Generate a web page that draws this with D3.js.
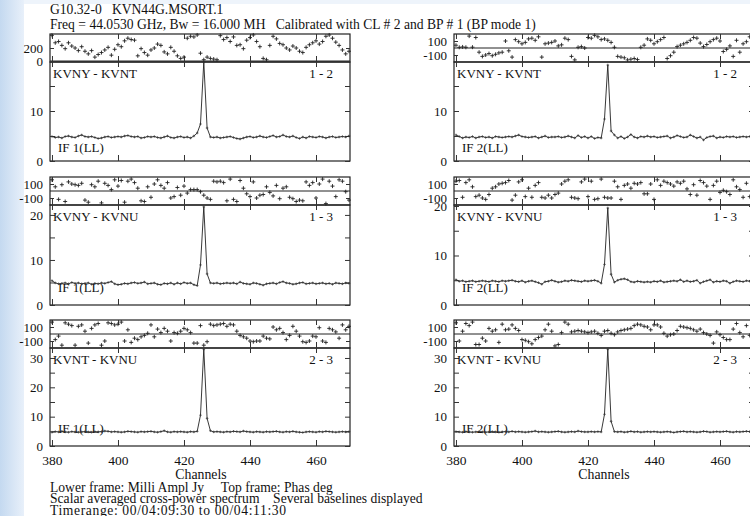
<!DOCTYPE html>
<html>
<head>
<meta charset="utf-8">
<script src="https://cdn.jsdelivr.net/npm/d3@7"></script>
<style>
  body { margin: 0; background: #fff; }
  svg { display: block; }
</style>
</head>
<body>
<svg id="chart"></svg>
<script>
// ---- data ----
const channels = d3.range(380, 471);
const channelTicks = [380, 400, 420, 440, 460];

const baselineNames = ["KVNY - KVNT", "KVNY - KVNU", "KVNT - KVNU"];
const baselineIds = ["1 - 2", "1 - 3", "2 - 3"];
const ifNames = ["IF 1(LL)", "IF 2(LL)"];

const ampLabels = [[0, 10], [0, 10, 20], [0, 10, 20, 30]];
const phaseLabelsL1 = [0, 200];
const phaseLabels = [-100, 100];

// amplitude (milli Jy), one value per channel 380..470
const ampL1 = [4.9, 4.7, 4.8, 4.6, 4.9, 5.0, 4.8, 4.7, 5.0, 5.2,
  4.9, 4.8, 4.9, 4.7, 4.5, 4.6, 4.8, 4.9, 4.7, 4.8,
  4.9, 4.8, 5.0, 5.1, 4.9, 4.8, 4.9, 4.6, 4.7, 4.9,
  4.8, 4.9, 4.7, 4.6, 4.8, 5.0, 4.7, 4.6, 4.8, 4.9,
  4.7, 4.8, 4.6, 5.0, 5.6, 7.4, 19.8, 6.6, 4.8, 4.7,
  4.8, 4.6, 4.7, 4.8, 4.9, 4.7, 4.5, 4.4, 4.6, 4.8,
  4.9, 4.7, 4.8, 5.0, 4.8, 4.7, 4.9, 5.1, 4.8, 4.9,
  5.2, 4.9, 4.8, 5.0, 4.7, 4.5, 4.8, 4.6, 4.9, 4.8,
  4.7, 4.9, 4.8, 4.6, 4.8, 4.9, 4.7, 4.8, 4.9, 4.8,
  5.0];
const ampR1 = [5.2, 4.9, 4.6, 4.8, 4.7, 4.9, 4.6, 4.8, 4.9, 4.7,
  4.8, 4.6, 4.9, 4.8, 4.7, 4.8, 4.9, 4.8, 5.0, 5.2,
  4.9, 4.8, 4.7, 4.8, 4.9, 4.6, 4.8, 5.0, 4.7, 4.8,
  4.8, 4.9, 4.7, 4.8, 5.0, 4.8, 4.6, 5.1, 4.7, 4.9,
  4.6, 4.9, 4.5, 4.7, 4.6, 8.4, 19.2, 6.0, 5.2, 4.6,
  4.9, 4.5, 4.8, 5.3, 4.8, 4.6, 4.9, 4.8, 5.0, 4.8,
  4.9, 4.7, 4.8, 4.9, 5.0, 4.6, 4.8, 5.1, 4.9, 4.7,
  4.8, 5.2, 4.9, 4.6, 4.8, 4.2, 4.7, 4.9, 5.0, 4.6,
  4.8, 4.7, 4.9, 4.8, 4.9, 4.7, 4.8, 4.9, 4.8, 4.9,
  4.8];
const ampL2 = [5.4, 4.9, 4.7, 4.8, 4.9, 4.7, 5.0, 4.8, 4.9, 4.7,
  4.8, 4.9, 4.6, 4.8, 4.7, 4.9, 4.8, 5.0, 5.2, 4.7,
  4.5, 4.6, 4.8, 4.7, 4.9, 5.0, 4.8, 4.9, 5.1, 4.7,
  4.8, 4.9, 4.6, 4.5, 4.8, 4.7, 4.9, 4.6, 4.9, 4.7,
  5.0, 4.8, 4.9, 4.5, 4.3, 8.9, 21.8, 6.9, 4.9, 4.8,
  4.9, 4.7, 4.8, 4.9, 4.8, 4.9, 4.7, 5.1, 4.8, 4.7,
  4.6, 4.9, 4.8, 4.6, 4.4, 4.7, 4.8, 4.9, 4.7, 5.0,
  5.2, 4.9, 4.8, 4.6, 4.7, 4.9, 5.0, 4.7, 4.8, 4.9,
  4.7, 4.8, 4.9, 4.7, 4.8, 4.6, 4.9, 4.8, 4.7, 4.9,
  4.8];
const ampR2 = [5.1, 4.8, 4.9, 4.7, 4.8, 4.9, 4.7, 4.8, 4.9, 4.8,
  4.7, 4.9, 4.8, 4.7, 4.9, 4.8, 4.9, 5.0, 4.8, 4.7,
  4.9, 4.6, 4.8, 4.9, 4.7, 4.5, 4.2, 4.7, 4.8, 5.0,
  4.8, 4.6, 4.7, 4.9, 4.8, 5.0, 4.9, 4.8, 4.7, 4.9,
  4.8, 4.9, 5.0, 4.8, 4.4, 8.2, 19.6, 6.2, 4.6, 5.0,
  5.2, 5.3, 5.1, 4.7, 4.6, 4.8, 4.7, 4.6, 4.7, 4.6,
  4.8, 4.7, 4.9, 4.6, 4.7, 4.8, 4.9, 4.8, 5.1, 4.7,
  4.9, 4.7, 4.8, 5.0, 4.4, 4.7, 4.9, 5.1, 4.6, 4.8,
  4.7, 4.9, 4.8, 4.4, 4.7, 4.9, 4.8, 4.7, 4.9, 4.8,
  4.8];
const ampL3 = [4.7, 4.9, 4.8, 5.0, 4.8, 4.7, 4.9, 4.8, 4.7, 4.8,
  4.9, 4.8, 4.7, 4.9, 4.8, 4.9, 5.1, 5.0, 4.8, 4.9,
  4.8, 4.7, 4.8, 5.0, 4.9, 4.8, 4.7, 4.9, 4.8, 4.9,
  5.0, 4.8, 4.7, 4.9, 5.2, 4.8, 4.7, 4.9, 4.8, 4.9,
  4.8, 4.7, 4.9, 4.8, 5.0, 10.5, 33.0, 9.4, 5.2, 4.8,
  4.9, 4.8, 4.7, 4.9, 4.8, 5.0, 4.9, 4.8, 5.1, 4.9,
  4.8, 4.7, 4.9, 4.8, 4.7, 4.9, 4.8, 4.9, 5.0, 4.8,
  4.7, 4.9, 4.8, 5.0, 4.8, 4.7, 4.6, 4.8, 4.9, 4.8,
  4.7, 4.9, 4.8, 5.0, 4.9, 4.8, 4.7, 4.8, 4.9, 4.8,
  4.9];
const ampR3 = [4.9, 4.8, 4.7, 4.9, 4.8, 4.7, 4.8, 4.9, 4.8, 4.7,
  4.8, 4.9, 4.8, 4.7, 4.8, 4.9, 4.8, 5.0, 4.8, 4.9,
  4.8, 4.7, 4.8, 4.9, 5.1, 4.8, 4.9, 4.8, 4.7, 4.8,
  4.9, 5.0, 4.8, 4.7, 4.8, 4.9, 4.8, 5.1, 4.9, 4.8,
  4.8, 4.9, 4.8, 4.9, 4.8, 10.8, 33.0, 8.4, 4.9, 4.8,
  4.9, 4.7, 4.8, 5.0, 4.8, 4.9, 4.7, 4.8, 4.9, 4.8,
  4.9, 4.8, 4.7, 4.8, 4.9, 4.8, 4.6, 4.8, 4.9, 5.0,
  4.8, 4.9, 4.8, 4.7, 4.8, 5.0, 4.9, 4.7, 4.8, 4.9,
  4.8, 4.9, 5.0, 4.8, 4.7, 4.9, 4.8, 4.9, 5.0, 4.9,
  4.8];

// phase (deg), one value per channel 380..470
const phL1 = [395, 280, 300, 240, 190, 280, 230, 200, 160, 220,
  150, 110, 160, 60, 100, 130, 170, 210, 90, 180,
  250, 220, 310, 350, 330, 320, 80, 190, 130, 90,
  170, 200, 260, 240, 140, 110, 210, 150, 80, 40,
  60, 350, 380, 370, 400, 120, 20, 60, 40, 30,
  20, 390, 330, 360, 300, 370, 240, 250, 190, 320,
  360, 400, 300, 220, 40, 20, 240, 380, 340, 270,
  250, 200, 170, 230, 200, 150, 130, 210, 250, 280,
  310, 260, 300, 380, 400, 350, 290, 240, 170, 110,
  150];
const phR1 = [40, 10, 15, 10, 170, 12, 150, -60, -120, -100,
  -80, -110, -90, -70, -60, 100, -40, -130, 120, 90,
  60, 80, 130, 140, 110, 160, -130, 60, 70, 80,
  100, 30, 45, 140, 120, -120, -170, 10, 20, 0,
  150, 140, 180, 160, 120, 130, 110, 80, 10, -120,
  -130, -140, -170, -160, -150, -165, 10, 40, 130, 110,
  60, 90, 120, 150, -150, -110, -60, 20, 40, 60,
  80, 110, 150, 140, 70, 20, 50, 90, 120, 140,
  100, -50, -20, 30, -120, 110, -60, 60, 90, 160,
  130];
const phL2 = [160, 60, -120, 90, -150, 130, 100, 90, 80, 110,
  -130, -160, 90, 60, 140, -170, 110, 80, 20, 160,
  70, 150, -160, 140, 170, 120, 40, -140, -150, 60,
  -90, 100, 160, 80, 40, 120, -100, -80, 50, -60,
  70, -30, 20, 20, 20, -10, -60, -100, -120, 140,
  130, 140, 120, -140, 170, -120, -150, 150, 40, -40,
  -80, 130, -100, -60, -50, 60, -20, -70, 80, -110,
  40, 60, -90, -110, -150, -130, -140, 130, 80, 120,
  -100, 100, 170, -180, 140, 70, -80, 160, 140, -10,
  -130];
const phR2 = [140, 150, -90, 120, 160, 60, -80, -60, -100, -120,
  -50, 40, 60, 100, 110, 120, 150, -130, -60, 130,
  160, -80, 40, -90, 80, 120, -90, -100, -60, -100,
  -50, -30, 100, 140, 160, -90, -100, -110, 130, 170,
  -80, 140, -120, -110, 170, -90, -100, -100, 140, 60,
  -120, 80, 100, 40, 110, 100, 120, -40, -40, 100,
  -120, 160, 80, 140, 120, 100, 70, 130, 110, 140,
  30, -50, 90, -60, 150, 120, 70, -120, 80, 140,
  -20, 10, -10, -50, 160, 60, 20, -90, 110, -80,
  -60];
const phL3 = [170, -80, -30, -160, 160, 140, 120, -160, 110, 130,
  40, -130, 80, 130, 150, -160, -100, 160, 150, 130,
  140, 170, -100, 60, -120, -60, -80, -40, -20, 10,
  130, -40, 70, 20, 80, 40, -100, 20, 10, 40,
  80, 60, 20, -130, -130, 120, -160, -110, 140, 120,
  130, 140, 150, 110, 140, 130, 40, -20, -40, -60,
  -100, -110, -100, -100, -30, -60, -70, 100, 60, 80,
  20, -80, -20, 110, 40, -30, -110, -120, -100, -30,
  -40, 90, -100, -120, 80, 60, 30, -60, 130, 60,
  110];
const phR3 = [160, -100, 40, 150, 120, 170, -150, -150, -60, -100,
  80, 40, 60, -120, 140, 60, 70, 130, 80, 50,
  -80, -90, -110, -140, -80, -50, -30, 60, 140, 40,
  -170, -150, 20, 170, 140, 30, 40, 50, 40, 30,
  20, 30, 40, 10, -20, 40, 50, 10, -10, 30,
  50, 60, 70, 80, 120, 140, 130, 110, 100, 60,
  130, 130, 100, 10, -30, -10, 0, 50, 110, 100,
  90, 80, 60, 40, 70, 20, 0, -20, -130, 30,
  -10, -50, -80, -80, 70, 150, 20, -40, 120, -20,
  40];

const SERIF = '"Liberation Serif", "Times New Roman", serif';

class PossmPanel {

    constructor(_config, _amp, _phase) {
        this.config = {
            parent: _config.parent,
            left: _config.left,
            top: _config.top,
            width: 300,
            phaseHeight: 28,
            ampHeight: _config.ampHeight,
            ampMax: _config.ampMax,
            ampLabels: _config.ampLabels,
            phaseDomain: _config.phaseDomain,
            phaseLabels: _config.phaseLabels,
            baseline: _config.baseline,
            baselineId: _config.baselineId,
            ifName: _config.ifName,
            ifOffset: _config.ifOffset,
            showX: _config.showX
        };
        this.amp = _amp;
        this.phase = _phase;
        this.initVis();
    }

    initVis() {
        let vis = this;
        const c = vis.config;
        const ampTop = c.phaseHeight;
        const ampBottom = c.phaseHeight + c.ampHeight;

        vis.g = c.parent.append('g')
            .attr('transform', `translate(${c.left},${c.top})`);

        vis.xScale = d3.scaleLinear().domain([379.4, 470.3]).range([0, c.width]);
        vis.phaseScale = d3.scaleLinear().domain(c.phaseDomain).range([c.phaseHeight, 0]);
        vis.ampScale = d3.scaleLinear().domain([0, c.ampMax]).range([ampBottom, ampTop]);

        const styleAxis = g => {
            g.attr('font-family', SERIF).attr('font-size', 13);
            g.select('.domain').remove();
            g.selectAll('line').attr('stroke', '#333');
            g.selectAll('text').attr('fill', '#111');
        };

        // frames
        vis.g.append('rect')
            .attr('width', c.width).attr('height', c.phaseHeight)
            .attr('fill', 'none').attr('stroke', '#222').attr('stroke-width', 1.2);
        vis.g.append('rect')
            .attr('y', ampTop)
            .attr('width', c.width).attr('height', c.ampHeight)
            .attr('fill', 'none').attr('stroke', '#222').attr('stroke-width', 1.2);

        // phase zero line
        vis.g.append('line')
            .attr('x1', 0).attr('x2', c.width)
            .attr('y1', vis.phaseScale(0)).attr('y2', vis.phaseScale(0))
            .attr('stroke', '#222').attr('stroke-width', 1);

        // x ticks on every frame edge
        vis.g.append('g')
            .call(d3.axisTop(vis.xScale).tickValues(channelTicks).tickSize(-5).tickFormat(''))
            .call(styleAxis);
        vis.g.append('g')
            .attr('transform', `translate(0,${ampTop})`)
            .call(d3.axisBottom(vis.xScale).tickValues(channelTicks).tickSize(-6).tickFormat(''))
            .call(styleAxis);
        vis.g.append('g')
            .attr('transform', `translate(0,${ampTop})`)
            .call(d3.axisTop(vis.xScale).tickValues(channelTicks).tickSize(-5).tickFormat(''))
            .call(styleAxis);
        vis.g.append('g')
            .attr('transform', `translate(0,${ampBottom})`)
            .call(d3.axisBottom(vis.xScale).tickValues(channelTicks).tickSize(-6).tickPadding(9)
                .tickFormat(d => c.showX ? String(d) : ''))
            .call(styleAxis)
            .call(g => g.selectAll('text').attr('font-size', 13.5));

        // phase y axes (plain hyphen for negatives, as in the plot)
        vis.g.append('g')
            .call(d3.axisLeft(vis.phaseScale).tickValues(c.phaseLabels).tickSize(-4).tickPadding(7)
                .tickFormat(d => String(d)))
            .call(styleAxis);
        vis.g.append('g')
            .attr('transform', `translate(${c.width},0)`)
            .call(d3.axisRight(vis.phaseScale).tickValues(c.phaseLabels).tickSize(-4).tickFormat(''))
            .call(styleAxis);

        // amplitude y axes
        const ampTickVals = d3.range(0, c.ampMax + 0.01, 5);
        vis.g.append('g')
            .call(d3.axisLeft(vis.ampScale).tickValues(ampTickVals).tickSize(-5).tickPadding(7)
                .tickFormat(d => c.ampLabels.includes(d) ? String(d) : ''))
            .call(styleAxis);
        vis.g.append('g')
            .attr('transform', `translate(${c.width},0)`)
            .call(d3.axisRight(vis.ampScale).tickValues(ampTickVals).tickSize(-5).tickFormat(''))
            .call(styleAxis);

        // labels inside the amplitude frame
        vis.g.append('text')
            .attr('x', 3).attr('y', ampTop + 16)
            .attr('font-family', SERIF).attr('font-size', 13).attr('fill', '#111')
            .text(c.baseline);
        vis.g.append('text')
            .attr('x', c.width - 17).attr('y', ampTop + 16)
            .attr('text-anchor', 'end')
            .attr('font-family', SERIF).attr('font-size', 13).attr('fill', '#111')
            .text(c.baselineId);
        vis.g.append('text')
            .attr('x', 8).attr('y', ampBottom - c.ifOffset)
            .attr('font-family', SERIF).attr('font-size', 13).attr('fill', '#111')
            .text(c.ifName);

        vis.renderVis();
    }

    renderVis() {
        let vis = this;
        const ampData = channels.map((ch, i) => ({ ch, v: vis.amp[i] }));
        const phaseData = channels.map((ch, i) => ({ ch, v: vis.phase[i] }));

        vis.g.append('path')
            .datum(ampData)
            .attr('fill', 'none')
            .attr('stroke', '#222')
            .attr('stroke-width', 0.9)
            .attr('d', d3.line()
                .x(d => vis.xScale(d.ch))
                .y(d => vis.ampScale(d.v)));

        // small crosses at each amplitude sample
        vis.g.append('path')
            .attr('fill', 'none').attr('stroke', '#333').attr('stroke-width', 0.7)
            .attr('d', ampData.map(d => {
                const x = vis.xScale(d.ch), y = vis.ampScale(d.v);
                return `M${x - 1.3},${y}h2.6M${x},${y - 1.3}v2.6`;
            }).join(''));

        // phase crosses
        vis.g.append('path')
            .attr('fill', 'none').attr('stroke', '#222').attr('stroke-width', 0.9)
            .attr('d', phaseData.map(d => {
                const x = vis.xScale(d.ch), y = vis.phaseScale(d.v);
                return `M${x - 2},${y}h4M${x},${y - 2}v4`;
            }).join(''));
    }
}

// ---- page ----
const W = 750, H = 516;
const svg = d3.select('#chart').attr('width', W).attr('height', H);

// light blue slide edge
const defs = svg.append('defs');
const grad = defs.append('linearGradient').attr('id', 'edge').attr('x1', 0).attr('x2', 1);
grad.append('stop').attr('offset', 0).attr('stop-color', '#c4d9f0');
grad.append('stop').attr('offset', 1).attr('stop-color', '#e8f0fa');
svg.append('rect').attr('width', W).attr('height', H).attr('fill', '#fff');
svg.append('rect').attr('width', 24).attr('height', H).attr('fill', 'url(#edge)');
svg.append('rect').attr('x', 24).attr('width', W - 24).attr('height', 4).attr('fill', '#eef4fb');

const cols = [50, 454];
const rows = [
    { top: 34, ampHeight: 99, ifOffset: 9 },
    { top: 177, ampHeight: 100, ifOffset: 13.5 },
    { top: 320, ampHeight: 98, ifOffset: 13.5 }
];
const ampSeries = [[ampL1, ampR1], [ampL2, ampR2], [ampL3, ampR3]];
const phaseSeries = [[phL1, phR1], [phL2, phR2], [phL3, phR3]];
const ampMax = [[19.8, 19.8], [22.2, 20.2], [33.4, 33.4]];

rows.forEach((row, r) => {
    cols.forEach((left, k) => {
        const isL1 = r === 0 && k === 0;
        new PossmPanel({
            parent: svg,
            left: left,
            top: row.top,
            ampHeight: row.ampHeight,
            ampMax: ampMax[r][k],
            ampLabels: ampLabels[r],
            phaseDomain: isL1 ? [-15, 415] : [-200, 200],
            phaseLabels: isL1 ? phaseLabelsL1 : phaseLabels,
            baseline: baselineNames[r],
            baselineId: baselineIds[r],
            ifName: ifNames[k],
            ifOffset: row.ifOffset,
            showX: r === 2
        }, ampSeries[r][k], phaseSeries[r][k]);
    });
});

// titles and footers
const txt = (x, y, s, size, anchor) => svg.append('text')
    .attr('x', x).attr('y', y)
    .attr('text-anchor', anchor || 'start')
    .attr('font-family', SERIF).attr('font-size', size).attr('fill', '#111')
    .style('white-space', 'pre')
    .text(s);

txt(50, 14, 'G10.32-0   KVN44G.MSORT.1', 13.6);
txt(50, 28.5, 'Freq = 44.0530 GHz, Bw = 16.000 MH   Calibrated with CL # 2 and BP # 1 (BP mode 1)', 13.6);
txt(201, 478.5, 'Channels', 13.8, 'middle');
txt(604, 478.5, 'Channels', 13.8, 'middle');
txt(50, 491.5, 'Lower frame: Milli Ampl Jy     Top frame: Phas deg', 13.6);
txt(50, 503, 'Scalar averaged cross-power spectrum    Several baselines displayed', 13.6);
txt(50, 514.5, 'Timerange: 00/04:09:30 to 00/04:11:30', 13.6)
    .attr('textLength', 236).attr('lengthAdjust', 'spacing');
</script>
</body>
</html>
